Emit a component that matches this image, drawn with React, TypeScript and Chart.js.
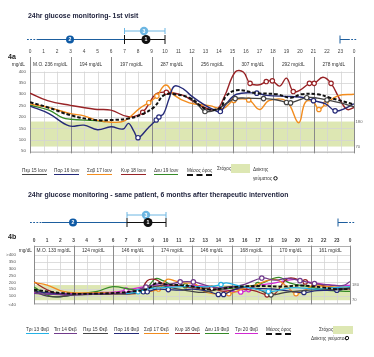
import React, { useEffect, useRef } from "react";
import { Chart, registerables } from "chart.js";

Chart.register(...registerables);

const FONT = "'Liberation Sans', Arial, sans-serif";

// ---------------- shared axis data ----------------
const HOUR_TICKS = [0, 1, 2, 3, 4, 5, 6, 7, 8, 9, 10, 11, 12, 13, 14, 15, 16, 17, 18, 19, 20, 21, 22, 23, 24];
const TARGET_RANGE = [70, 180];
const A_Y_TICKS = [50, 100, 150, 200, 250, 300, 350, 400];
const B_Y_TICKS = [40, 100, 150, 200, 250, 300, 350, 400];
const A_BLOCK_LABELS = ["M.O. 236 mg/dL", "194 mg/dL", "197 mg/dL", "287 mg/dL", "256 mg/dL", "307 mg/dL", "292 mg/dL", "278 mg/dL"];
const B_BLOCK_LABELS = ["M.O. 133 mg/dL", "124 mg/dL", "146 mg/dL", "174 mg/dL", "146 mg/dL", "168 mg/dL", "170 mg/dL", "161 mg/dL"];

// ---------------- 4a : 1st visit ----------------
const A_THU15_H = [11.8, 12.5, 12.96, 13.8, 14.6, 15.2, 16.0, 17.3, 18.2, 19.0, 19.3, 20.5, 21.3, 22.0, 23.0, 24];
const A_THU15_V = [285, 250, 224, 232, 262, 281, 283, 281, 276, 264, 262, 285, 283, 275, 262, 245];
const A_THU15_MEAL = [12.96, 15.2, 17.3, 19.0, 19.3, 20.5, 22.0];

const A_FRI16_H = [0, 1.4, 2.9, 4.0, 5.0, 6.0, 6.9, 7.3, 7.7, 8.0, 8.75, 9.35, 9.55, 9.9, 10.3, 10.7, 11.4, 11.9, 12.8, 13.6, 14.1, 14.5, 15.3, 16.8, 17.5, 19.3, 20.3, 21.0, 21.9, 22.6, 23.3, 24];
const A_FRI16_V = [248, 215, 161, 164, 144, 157, 147, 172, 137, 109, 152, 187, 200, 215, 280, 336, 322, 295, 258, 232, 224, 255, 300, 305, 295, 290, 285, 272, 258, 227, 237, 258];
const A_FRI16_MEAL = [8.0, 9.35, 9.55, 14.1, 16.8, 21.0, 22.6];

const A_SAT17_H = [0, 1.5, 3, 4, 5, 6, 7, 8.1, 8.8, 9.4, 9.9, 10.2, 10.7, 11.8, 13.3, 14.3, 15.1, 16.2, 17.0, 17.7, 19.0, 19.9, 20.4, 21.0, 21.4, 21.9, 22.8, 24];
const A_SAT17_V = [258, 240, 215, 205, 185, 177, 183, 237, 263, 292, 336, 338, 295, 262, 250, 237, 273, 275, 233, 272, 270, 175, 265, 265, 233, 258, 293, 300];
const A_SAT17_MEAL = [8.8, 9.4, 15.1, 16.2, 21.4, 21.9];

const A_SUN18_H = [0, 1.3, 3, 4.8, 6, 7.3, 8.35, 9.3, 10.1, 11.3, 11.8, 12.8, 13.8, 14.4, 15.2, 15.8, 16.3, 17.0, 17.5, 17.95, 18.5, 19.0, 19.5, 20.0, 20.7, 21.05, 21.7, 22.3, 23.0, 23.5, 24];
const A_SUN18_V = [305, 272, 251, 234, 230, 201, 221, 300, 309, 296, 280, 245, 232, 290, 398, 398, 348, 342, 356, 359, 336, 371, 312, 318, 348, 348, 375, 348, 272, 233, 242];
const A_SUN18_MEAL = [8.35, 10.1, 16.3, 17.5, 17.95, 19.5, 20.7, 21.05, 22.3];

const A_MON19_H = [0, 1.4, 2.4, 3, 4.8, 5.6];
const A_MON19_V = [252, 230, 197, 190, 184, 180];

const A_MEAN_H = [0, 1.4, 3, 4.8, 6.1, 7.3, 8.3, 9.2, 9.9, 10.7, 11.9, 13.0, 14.1, 14.5, 15.3, 16.8, 18.3, 19.3, 20.1, 21.3, 22.2, 24];
const A_MEAN_V = [265, 241, 208, 187, 187, 193, 212, 244, 295, 300, 282, 237, 240, 290, 318, 305, 300, 285, 300, 300, 285, 255];

// ---------------- 4b : 6 months later ----------------
const B_TUE13_H = [7, 7.9, 8.6, 9.5, 10.5, 11.5, 12.5, 13.5, 14.2, 14.6, 15.5, 16.5, 17.8, 18.5, 19.4, 20.5, 21.5, 22.5, 24];
const B_TUE13_V = [118, 131, 150, 160, 165, 170, 168, 170, 184, 196, 176, 158, 134, 140, 160, 158, 150, 160, 169];
const B_TUE13_MEAL = [7.9, 14.2, 17.8];

const B_WED14_H = [0, 1.5, 3, 4.5, 6, 7, 8.5, 9.5, 10.3, 11.1, 12.1, 13, 14, 15, 16, 17.3, 18.3, 19.2, 20.2, 21.3, 22.5, 23.5, 24];
const B_WED14_V = [120, 112, 108, 115, 120, 125, 165, 190, 185, 203, 203, 180, 160, 165, 185, 231, 215, 228, 212, 191, 180, 177, 205];
const B_WED14_MEAL = [8.5, 11.1, 12.1, 17.3, 20.2, 21.3];

const B_THU15_H = [0, 1, 2, 3, 4.5, 6, 7.3, 8.5, 9.5, 10.5, 12, 13, 14.5, 15.5, 17, 18, 19, 20.5, 22, 23, 24];
const B_THU15_V = [134, 100, 95, 108, 112, 118, 118, 150, 175, 160, 134, 128, 165, 170, 150, 109, 126, 140, 150, 145, 160];
const B_THU15_MEAL = [18];

const B_FRI16_H = [0, 1.5, 3, 4.5, 6, 7.3, 8.3, 8.6, 9.3, 10.2, 11.1, 12, 13, 14.0, 14.4, 15.6, 17, 18.3, 19.5, 20.5, 21.5, 23.0, 24];
const B_FRI16_V = [135, 120, 112, 115, 118, 120, 131, 131, 150, 147, 143, 151, 140, 112, 112, 160, 155, 150, 135, 126, 140, 143, 160];
const B_FRI16_MEAL = [8.3, 8.6, 10.2, 14.0, 14.4, 20.5, 23.0];

const B_SAT17_H = [0, 1, 2.2, 3.5, 5, 6.3, 8, 9.45, 10.1, 10.7, 11.5, 12.2, 13.1, 14.8, 15.8, 16.7, 18.3, 19.2, 19.9, 20.7, 21.3, 22, 23, 24];
const B_SAT17_V = [198, 180, 134, 123, 125, 122, 127, 151, 221, 210, 194, 190, 126, 117, 150, 177, 221, 170, 117, 150, 184, 170, 165, 160];
const B_SAT17_MEAL = [9.45, 14.8, 19.9, 21.3];

const B_SUN18_H = [0, 1, 2.2, 3.5, 5, 6.5, 8, 8.6, 9.2, 9.8, 10.7, 12.2, 13.5, 14.4, 15.5, 16.7, 17.7, 18.3, 19.3, 20.6, 21.5, 22.5, 24];
const B_SUN18_V = [203, 146, 109, 115, 112, 118, 126, 212, 221, 190, 177, 160, 156, 134, 150, 140, 109, 117, 228, 203, 185, 165, 150];
const B_SUN18_MEAL = [13.5, 17.7, 20.6];

const B_MON19_H = [0, 1.2, 2.2, 3.5, 4.8, 6, 7.3, 8.4, 9.2, 9.8, 10.5, 11.5, 12.2, 13.5, 15.2, 17.0, 18.6, 19.4, 21.3, 22, 24];
const B_MON19_V = [165, 100, 98, 117, 134, 169, 150, 143, 226, 212, 180, 175, 169, 150, 160, 184, 235, 196, 160, 143, 134];
const B_MON19_MEAL = [11.5, 17.0];

const B_TUE20_H = [0, 1.5, 3, 4.8, 6, 7.0, 8.4, 9.2, 10.5, 12, 13.5, 14.5, 15.7, 16.3, 16.9, 18, 19.8, 21, 22, 23.5, 24];
const B_TUE20_V = [126, 120, 118, 126, 128, 143, 169, 180, 175, 177, 165, 145, 130, 147, 177, 190, 221, 200, 185, 175, 180];
const B_TUE20_MEAL = [7.0, 15.7, 16.3];

const B_MEAN_H = [0, 1.5, 3, 4.8, 6.5, 7.5, 8.6, 9.3, 10, 11, 12, 13.3, 14.4, 15.6, 17.4, 18.9, 20.4, 21.9, 22.9, 24];
const B_MEAN_V = [146, 128, 117, 118, 125, 134, 151, 194, 185, 180, 170, 147, 156, 169, 173, 169, 177, 163, 151, 151];

// ---------------- colours ----------------
const C_BLACK = "#444444";
const C_NAVY = "#252a78";
const C_ORANGE = "#f28c1e";
const C_RED = "#982326";
const C_GREEN = "#358a26";
const C_CYAN = "#25b2e6";
const C_PURPLE = "#713b8c";
const C_MAGENTA = "#d228d2";
const C_MEAN = "#111111";
const C_TARGET = "#dde7b3";

type Series = { label: string; color: string; h: number[]; v: number[]; meal?: number[]; mean?: boolean };

const A_SERIES: Series[] = [
  { label: "Μέσος όρος", color: C_MEAN, h: A_MEAN_H, v: A_MEAN_V, mean: true },
  { label: "Πεμ 15 Ιουν", color: C_BLACK, h: A_THU15_H, v: A_THU15_V, meal: A_THU15_MEAL },
  { label: "Παρ 16 Ιουν", color: C_NAVY, h: A_FRI16_H, v: A_FRI16_V, meal: A_FRI16_MEAL },
  { label: "Σαβ 17 Ιουν", color: C_ORANGE, h: A_SAT17_H, v: A_SAT17_V, meal: A_SAT17_MEAL },
  { label: "Κυρ 18 Ιουν", color: C_RED, h: A_SUN18_H, v: A_SUN18_V, meal: A_SUN18_MEAL },
  { label: "Δευ 19 Ιουν", color: C_GREEN, h: A_MON19_H, v: A_MON19_V },
];

const B_SERIES: Series[] = [
  { label: "Μέσος όρος", color: C_MEAN, h: B_MEAN_H, v: B_MEAN_V, mean: true },
  { label: "Τρι 13 Φεβ", color: C_CYAN, h: B_TUE13_H, v: B_TUE13_V, meal: B_TUE13_MEAL },
  { label: "Τετ 14 Φεβ", color: C_PURPLE, h: B_WED14_H, v: B_WED14_V, meal: B_WED14_MEAL },
  { label: "Πεμ 15 Φεβ", color: C_BLACK, h: B_THU15_H, v: B_THU15_V, meal: B_THU15_MEAL },
  { label: "Παρ 16 Φεβ", color: C_NAVY, h: B_FRI16_H, v: B_FRI16_V, meal: B_FRI16_MEAL },
  { label: "Σαβ 17 Φεβ", color: C_ORANGE, h: B_SAT17_H, v: B_SAT17_V, meal: B_SAT17_MEAL },
  { label: "Κυρ 18 Φεβ", color: C_RED, h: B_SUN18_H, v: B_SUN18_V, meal: B_SUN18_MEAL },
  { label: "Δευ 19 Φεβ", color: C_GREEN, h: B_MON19_H, v: B_MON19_V, meal: B_MON19_MEAL },
  { label: "Τρι 20 Φεβ", color: C_MAGENTA, h: B_TUE20_H, v: B_TUE20_V, meal: B_TUE20_MEAL },
];

type PanelCfg = {
  series: Series[];
  yMin: number;
  yMax: number;
  yTicks: number[];
  blocks: string[];
  leftW: number;
  rightW: number;
  padTop: number;
  padBottom: number;
  yPad: number;
  rPad: number;
  unitGap: number;
  boxHeader: boolean;
  boldHours: boolean;
  lineW: number;
  yLabel: (v: number) => string;
};

const panelPlugin = {
  id: "panelDeco",
  beforeDatasetsDraw(chart: any, _args: any, o: any) {
    const { ctx, chartArea: ca } = chart;
    const x = chart.scales.x;
    const y = chart.scales.y;
    ctx.save();
    // target band
    const yT = y.getPixelForValue(o.target[1]);
    const yB = y.getPixelForValue(o.target[0]);
    ctx.fillStyle = C_TARGET;
    ctx.fillRect(ca.left, yT, ca.right - ca.left, yB - yT);
    const yHead = y.getPixelForValue(400);
    // horizontal grid
    ctx.lineWidth = 0.8;
    ctx.strokeStyle = "#d4d4d4";
    for (const t of o.yTicks) {
      const py = Math.round(y.getPixelForValue(t)) + 0.5;
      ctx.beginPath();
      ctx.moveTo(ca.left, py);
      ctx.lineTo(ca.right, py);
      ctx.stroke();
    }
    // hourly grid
    for (const h of o.hours) {
      if (h % 3 === 0) continue;
      const px = Math.round(x.getPixelForValue(h)) + 0.5;
      ctx.beginPath();
      ctx.moveTo(px, yHead);
      ctx.lineTo(px, ca.bottom);
      ctx.stroke();
    }
    // bottom line
    ctx.strokeStyle = "#b8b8b8";
    ctx.beginPath();
    ctx.moveTo(ca.left, Math.round(ca.bottom) - 0.5);
    ctx.lineTo(ca.right, Math.round(ca.bottom) - 0.5);
    ctx.stroke();
    if (o.boxHeader) {
      ctx.strokeStyle = "#9a9a9a";
      ctx.beginPath();
      ctx.moveTo(ca.left, Math.round(ca.top) + 0.5);
      ctx.lineTo(ca.right, Math.round(ca.top) + 0.5);
      ctx.stroke();
    }
    // 3-hour dividers
    ctx.strokeStyle = "#8a8a8a";
    ctx.lineWidth = 1;
    for (const h of o.hours) {
      if (h % 3 !== 0) continue;
      const px = Math.round(x.getPixelForValue(h)) + 0.5;
      ctx.beginPath();
      ctx.moveTo(px, ca.top);
      ctx.lineTo(px, ca.bottom);
      ctx.stroke();
    }
    // header labels
    const cy = (ca.top + yHead) / 2 + 0.5;
    ctx.fillStyle = "#333";
    ctx.font = `${o.headSize}px ${FONT}`;
    ctx.textAlign = "center";
    ctx.textBaseline = "middle";
    o.blocks.forEach((s: string, i: number) => {
      const cx = (x.getPixelForValue(i * 3) + x.getPixelForValue(i * 3 + 3)) / 2;
      ctx.fillText(s, cx, cy);
    });
    ctx.textAlign = "right";
    ctx.fillText("mg/dL", ca.left - o.unitGap, cy);
    ctx.restore();
  },
};

function buildConfig(p: PanelCfg): any {
  const datasets = p.series.map((s) => ({
    label: s.label,
    data: s.h.map((h, i) => ({ x: h, y: s.v[i] })),
    borderColor: s.color,
    borderWidth: s.mean ? p.lineW + 0.6 : p.lineW,
    borderDash: s.mean ? [3.5, 2] : [],
    pointRadius: s.h.map((h) => ((s.meal || []).includes(h) ? 2.2 : 0)),
    pointHoverRadius: 0,
    pointBackgroundColor: "#ffffff",
    pointBorderColor: s.color,
    pointBorderWidth: 1.2,
    tension: 0.4,
    fill: false,
  }));
  return {
    type: "line",
    data: { datasets },
    plugins: [panelPlugin],
    options: {
      animation: false,
      responsive: false,
      events: [],
      layout: { padding: { top: p.padTop, bottom: p.padBottom, left: 0, right: 0 } },
      plugins: {
        legend: { display: false },
        tooltip: { enabled: false },
        panelDeco: {
          target: TARGET_RANGE,
          yTicks: p.yTicks,
          hours: HOUR_TICKS,
          blocks: p.blocks,
          boxHeader: p.boxHeader,
          unitGap: p.unitGap,
          headSize: 4.8,
        },
      },
      scales: {
        x: {
          type: "linear",
          position: "top",
          min: 0,
          max: 24,
          offset: false,
          grid: { display: false, drawTicks: false },
          border: { display: false },
          afterBuildTicks: (s: any) => {
            s.ticks = HOUR_TICKS.map((v) => ({ value: v }));
          },
          afterFit: (s: any) => {
            s.height = 10;
          },
          ticks: {
            autoSkip: false,
            maxRotation: 0,
            minRotation: 0,
            padding: 2,
            font: { size: 4.8, family: FONT, weight: p.boldHours ? "bold" : "normal" },
            color: "#444",
            callback: (v: any) => (Number(v) === 24 ? "0" : String(v)),
          },
        },
        y: {
          type: "linear",
          position: "left",
          min: p.yMin,
          max: p.yMax,
          grid: { display: false, drawTicks: false },
          border: { display: false },
          afterBuildTicks: (s: any) => {
            s.ticks = p.yTicks.map((v) => ({ value: v }));
          },
          afterFit: (s: any) => {
            s.width = p.leftW;
          },
          ticks: {
            padding: p.yPad,
            font: { size: 4.4, family: FONT },
            color: "#555",
            callback: (v: any) => p.yLabel(Number(v)),
          },
        },
        y2: {
          type: "linear",
          position: "right",
          min: p.yMin,
          max: p.yMax,
          grid: { display: false, drawTicks: false },
          border: { display: false },
          afterBuildTicks: (s: any) => {
            s.ticks = TARGET_RANGE.map((v) => ({ value: v }));
          },
          afterFit: (s: any) => {
            s.width = p.rightW;
          },
          ticks: {
            padding: p.rPad,
            font: { size: 4.2, family: FONT },
            color: "#666",
          },
        },
      },
    },
  };
}

const PANEL_A: PanelCfg = {
  series: A_SERIES,
  yMin: 40,
  yMax: 464,
  yTicks: A_Y_TICKS,
  blocks: A_BLOCK_LABELS,
  leftW: 30,
  rightW: 20,
  padTop: 7,
  padBottom: 3.5,
  yPad: 4,
  rPad: 1.5,
  unitGap: 5,
  boxHeader: false,
  boldHours: false,
  lineW: 1.4,
  yLabel: (v) => String(v),
};

const PANEL_B: PanelCfg = {
  series: B_SERIES,
  yMin: 40,
  yMax: 466,
  yTicks: B_Y_TICKS,
  blocks: B_BLOCK_LABELS,
  leftW: 34,
  rightW: 24,
  padTop: 2.5,
  padBottom: 5,
  yPad: 18,
  rPad: 2,
  unitGap: 2,
  boxHeader: true,
  boldHours: true,
  lineW: 1.25,
  yLabel: (v) => (v === 400 ? ">400" : v === 40 ? "<40" : String(v)),
};

function ChartCanvas({ cfg, top, height }: { cfg: PanelCfg; top: number; height: number }) {
  const ref = useRef<HTMLCanvasElement | null>(null);
  useEffect(() => {
    if (!ref.current) return;
    const chart = new Chart(ref.current, buildConfig(cfg));
    return () => chart.destroy();
  }, [cfg]);
  return (
    <canvas
      ref={ref}
      width={374}
      height={height}
      style={{ position: "absolute", left: 0, top, width: 374, height }}
    />
  );
}

type LegendItem = { label: string; color: string; left: number; mean?: boolean };

function LegendRow({ items, top }: { items: LegendItem[]; top: number }) {
  return (
    <>
      {items.map((it) => (
        <span
          key={it.label}
          style={{
            position: "absolute",
            left: it.left,
            top,
            fontSize: 4.7,
            lineHeight: "5px",
            color: "#333",
            whiteSpace: "nowrap",
            paddingBottom: 1,
            borderBottom: it.mean ? `2px dashed ${it.color}` : `1.5px solid ${it.color}`,
          }}
        >
          {it.label}
        </span>
      ))}
    </>
  );
}

const A_LEGEND: LegendItem[] = [
  { label: "Πεμ 15 Ιουν", color: C_BLACK, left: 22 },
  { label: "Παρ 16 Ιουν", color: C_NAVY, left: 54 },
  { label: "Σαβ 17 Ιουν", color: C_ORANGE, left: 87 },
  { label: "Κυρ 18 Ιουν", color: C_RED, left: 121 },
  { label: "Δευ 19 Ιουν", color: C_GREEN, left: 154 },
  { label: "Μέσος όρος", color: C_MEAN, left: 187, mean: true },
];

const B_LEGEND: LegendItem[] = [
  { label: "Τρι 13 Φεβ", color: C_CYAN, left: 26 },
  { label: "Τετ 14 Φεβ", color: C_PURPLE, left: 54 },
  { label: "Πεμ 15 Φεβ", color: C_BLACK, left: 83 },
  { label: "Παρ 16 Φεβ", color: C_NAVY, left: 114 },
  { label: "Σαβ 17 Φεβ", color: C_ORANGE, left: 144 },
  { label: "Κυρ 18 Φεβ", color: C_RED, left: 175 },
  { label: "Δευ 19 Φεβ", color: C_GREEN, left: 205 },
  { label: "Τρι 20 Φεβ", color: C_MAGENTA, left: 235 },
  { label: "Μέσος όρος", color: C_MEAN, left: 266, mean: true },
];

function Badge({ cx, cy, fill, text, r }: { cx: number; cy: number; fill: string; text: string; r: number }) {
  return (
    <g>
      <circle cx={cx} cy={cy} r={r} fill={fill} />
      <text x={cx} y={cy + 1.8} fontSize={5.2} fontWeight="bold" fill="#fff" textAnchor="middle" fontFamily={FONT}>
        {text}
      </text>
    </g>
  );
}

function Timeline({ y, yb, x0, xd, xs, xe, c2, cb, xr }: { y: number; yb: number; x0: number; xd: number; xs: number; xe: number; c2: number; cb: number; xr: number }) {
  const navy = "#1d5e9e";
  const light = "#6cb6e2";
  return (
    <g>
      <line x1={x0} y1={y} x2={xd} y2={y} stroke={navy} strokeWidth={1} strokeDasharray="1.8,1.4" />
      <line x1={xd} y1={y} x2={xs} y2={y} stroke={navy} strokeWidth={1.1} />
      <Badge cx={c2} cy={y} fill="#0e5aa5" text="2" r={4} />
      <line x1={xs} y1={yb} x2={xe} y2={yb} stroke={light} strokeWidth={1} />
      <line x1={xs} y1={yb - 3} x2={xs} y2={yb + 3} stroke={light} strokeWidth={1} />
      <line x1={xe} y1={yb - 3} x2={xe} y2={yb + 3} stroke={light} strokeWidth={1} />
      <line x1={xs} y1={y} x2={xe} y2={y} stroke="#111" strokeWidth={1.1} />
      <line x1={xs} y1={y - 4.5} x2={xs} y2={y + 4.5} stroke="#111" strokeWidth={1} />
      <line x1={xe} y1={y - 4.5} x2={xe} y2={y + 4.5} stroke="#111" strokeWidth={1} />
      <Badge cx={cb - 2} cy={yb} fill={light} text="3" r={4.2} />
      <Badge cx={cb} cy={y} fill="#111" text="1" r={4.5} />
      <line x1={xr} y1={y - 4} x2={xr} y2={y + 4} stroke={navy} strokeWidth={1} />
      <line x1={xr} y1={y} x2={xr + 8} y2={y} stroke={navy} strokeWidth={1} />
      <line x1={xr + 8} y1={y} x2={xr + 17} y2={y} stroke={navy} strokeWidth={1} strokeDasharray="1.8,1.4" />
    </g>
  );
}

export default function App() {
  const title: React.CSSProperties = {
    position: "absolute",
    left: 28,
    fontSize: 6.9,
    fontWeight: "bold",
    color: "#1c1f3a",
    whiteSpace: "nowrap",
    lineHeight: "8px",
  };
  const tag: React.CSSProperties = { position: "absolute", left: 8, fontSize: 7, fontWeight: "bold", color: "#222", lineHeight: "8px" };
  const small: React.CSSProperties = { position: "absolute", fontSize: 4.7, color: "#333", whiteSpace: "nowrap", lineHeight: "5px" };
  return (
    <div
      style={{
        position: "fixed",
        left: 0,
        top: 0,
        width: 374,
        height: 357,
        background: "#fff",
        overflow: "hidden",
        fontFamily: FONT,
      }}
    >
      <ChartCanvas cfg={PANEL_A} top={40} height={120} />
      <ChartCanvas cfg={PANEL_B} top={225} height={100} />
      <svg width={374} height={357} style={{ position: "absolute", left: 0, top: 0, pointerEvents: "none" }}>
        <Timeline y={39.5} yb={31} x0={27} xd={38} xs={124.5} xe={165} c2={70} cb={146} xr={340} />
        <Timeline y={222.5} yb={215} x0={30} xd={42} xs={127} xe={166} c2={73} cb={148} xr={338} />
        <circle cx={275.5} cy={178.3} r={1.7} fill="#fff" stroke="#111" strokeWidth={1} />
        <circle cx={347} cy={338} r={1.7} fill="#fff" stroke="#111" strokeWidth={1} />
      </svg>
      <div style={{ ...title, top: 12 }}>24hr glucose monitoring- 1st visit</div>
      <div style={{ ...tag, top: 53 }}>4a</div>
      <div style={{ ...title, top: 191 }}>24hr glucose monitoring - same patient, 6 months after therapeutic intervention</div>
      <div style={{ ...tag, top: 233 }}>4b</div>

      <LegendRow items={A_LEGEND} top={167.5} />
      <div style={{ ...small, left: 217, top: 166 }}>Στόχος</div>
      <div style={{ position: "absolute", left: 231, top: 164, width: 19, height: 9, background: C_TARGET }} />
      <div style={{ ...small, left: 253, top: 167 }}>Δείκτης</div>
      <div style={{ ...small, left: 253, top: 176 }}>γεύματος</div>

      <LegendRow items={B_LEGEND} top={326.5} />
      <div style={{ ...small, left: 319, top: 327 }}>Στόχος</div>
      <div style={{ position: "absolute", left: 333, top: 325.5, width: 20, height: 8, background: C_TARGET }} />
      <div style={{ ...small, left: 311, top: 335.5 }}>Δείκτης γεύματος</div>
    </div>
  );
}
